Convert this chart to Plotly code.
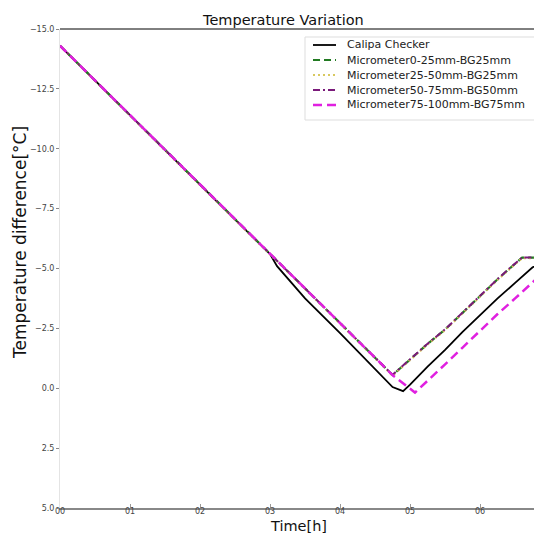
import plotly.graph_objects as go

# ---- data ----
time_h = [0, 0.5, 1, 1.5, 2, 2.5, 3, 3.5, 4, 4.5, 4.75, 5, 5.25, 5.5, 5.75, 6, 6.25, 6.5, 6.6, 6.75, 7]

calipa_t = [0, 0.5, 1, 1.5, 2, 2.5, 3.0, 3.1, 3.5, 4, 4.5, 4.75, 4.9, 5, 5.25, 5.5, 5.75, 6, 6.25, 6.5, 6.75, 7]
calipa = [-14.3, -12.85, -11.4, -9.95, -8.5, -7.05, -5.6, -5.1, -3.75, -2.3, -0.8, -0.05, 0.12, -0.15,
          -0.9, -1.6, -2.35, -3.05, -3.75, -4.4, -5.05, -5.4]

micro_0_25 = [-14.3, -12.85, -11.4, -9.95, -8.5, -7.05, -5.6, -4.15, -2.7, -1.25, -0.55,
              -1.2, -1.85, -2.45, -3.15, -3.85, -4.55, -5.2, -5.45, -5.45, -5.45]
micro_25_50 = [-14.3, -12.83, -11.38, -9.93, -8.48, -7.03, -5.58, -4.13, -2.68, -1.23, -0.53,
               -1.18, -1.83, -2.43, -3.13, -3.83, -4.53, -5.18, -5.43, -5.43, -5.43]
micro_50_75 = [-14.3, -12.86, -11.41, -9.96, -8.51, -7.06, -5.61, -4.16, -2.71, -1.26, -0.56,
               -1.21, -1.86, -2.46, -3.16, -3.86, -4.56, -5.21, -5.46, -5.46, -5.46]

magenta_t = [0, 0.5, 1, 1.5, 2, 2.5, 3, 3.5, 4, 4.5, 4.75, 5.07, 5.25, 5.5, 5.75, 6, 6.25, 6.5, 6.75, 7]
micro_75_100 = [-14.3, -12.85, -11.4, -9.95, -8.5, -7.05, -5.6, -4.15, -2.7, -1.25, -0.55, 0.18,
                -0.3, -1.0, -1.7, -2.4, -3.1, -3.75, -4.45, -5.1]

series_names = ["Calipa Checker", "Micrometer0-25mm-BG25mm", "Micrometer25-50mm-BG25mm",
                "Micrometer50-75mm-BG50mm", "Micrometer75-100mm-BG75mm"]

x_ticks = [0, 1, 2, 3, 4, 5, 6]
x_ticktext = ["00", "01", "02", "03", "04", "05", "06"]
y_ticks = [-15, -12.5, -10, -7.5, -5, -2.5, 0, 2.5, 5]
y_ticktext = ["\u221215.0", "\u221212.5", "\u221210.0", "\u22127.5", "\u22125.0", "\u22122.5", "0.0", "2.5", "5.0"]

FONT = "DejaVu Sans"
W, H = 534, 534
ML, MR, MT, MB = 60, 0, 29, 26
PW, PH = W - ML - MR, H - MT - MB

styles = [
    dict(color="black", width=1.8, dash="solid"),
    dict(color="#217a21", width=2.2, dash="7px,4px"),
    dict(color="#d8c860", width=2.2, dash="2px,3px"),
    dict(color="#7a1a7a", width=2.0, dash="7px,3px,2px,3px"),
    dict(color="#e020e0", width=2.5, dash="9px,5px"),
]
xs = [calipa_t, time_h, time_h, time_h, magenta_t]
ys = [calipa, micro_0_25, micro_25_50, micro_50_75, micro_75_100]

fig = go.Figure()
for name, x, y, st in zip(series_names, xs, ys, styles):
    fig.add_trace(go.Scatter(x=x, y=y, mode="lines", name=name, line=st, showlegend=False))


def px_x(p):
    return (p - ML) / PW


def px_y(p):
    return (H - MB - p) / PH


shapes = [dict(type="line", xref="paper", yref="paper", x0=0, x1=1, y0=1, y1=1,
               line=dict(color="black", width=1))]
annotations = []

# custom legend (matplotlib-like compact legend)
shapes.append(dict(type="rect", xref="paper", yref="paper",
                   x0=px_x(305), x1=px_x(540), y0=px_y(120), y1=px_y(37),
                   fillcolor="white", line=dict(color="#dddddd", width=1), layer="above"))
for i, (name, st) in enumerate(zip(series_names, styles)):
    yp = 45 + 15 * i
    shapes.append(dict(type="line", xref="paper", yref="paper",
                       x0=px_x(313), x1=px_x(336), y0=px_y(yp), y1=px_y(yp),
                       line=st, layer="above"))
    annotations.append(dict(text=name, xref="paper", yref="paper", x=px_x(345), y=px_y(yp),
                            xanchor="left", yanchor="middle", showarrow=False,
                            font=dict(family=FONT, size=11, color="#222222")))

annotations += [
    dict(text="Temperature Variation", xref="paper", yref="paper", x=px_x(283), y=px_y(20),
         xanchor="center", yanchor="middle", showarrow=False,
         font=dict(family=FONT, size=14.5, color="#111111")),
    dict(text="Time[h]", xref="paper", yref="paper", x=px_x(298), y=px_y(526),
         xanchor="center", yanchor="middle", showarrow=False,
         font=dict(family=FONT, size=14.5, color="#111111")),
    dict(text="Temperature difference[°C]", xref="paper", yref="paper", x=px_x(20), y=px_y(243),
         xanchor="center", yanchor="middle", textangle=-90, showarrow=False,
         font=dict(family=FONT, size=17, color="#111111")),
]

fig.update_layout(
    width=W, height=H,
    margin=dict(l=ML, r=MR, t=MT, b=MB),
    paper_bgcolor="white", plot_bgcolor="white",
    font=dict(family=FONT, color="#333333"),
    showlegend=False,
    xaxis=dict(range=[0, 6.77], tickvals=x_ticks, ticktext=x_ticktext,
               showgrid=False, zeroline=False, showline=True, linecolor="#888888", linewidth=2,
               ticks="inside", ticklen=4, tickcolor="#999999", ticklabelstandoff=-6,
               tickfont=dict(family=FONT, size=8, color="#444444")),
    yaxis=dict(range=[5, -15], tickvals=y_ticks, ticktext=y_ticktext,
               showgrid=False, zeroline=False, showline=True, linecolor="#e4e4e4", linewidth=1,
               ticks="outside", ticklen=3, tickcolor="#888888",
               tickfont=dict(family=FONT, size=8, color="#444444")),
    shapes=shapes,
    annotations=annotations,
)

fig.write_html("out.html", config={"displayModeBar": False},
               post_script="document.body.style.margin='0';document.body.style.overflow='hidden';")
